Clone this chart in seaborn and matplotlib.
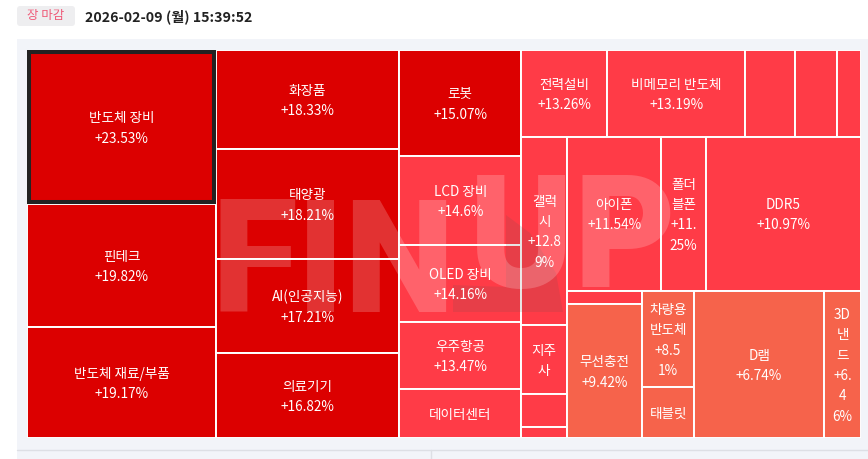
import numpy as np
import pandas as pd
import matplotlib.pyplot as plt
from matplotlib.patches import Rectangle, FancyBboxPatch, Polygon
import seaborn as sns

# flat list of tiles: label, daily change, size weight
labels = ["반도체 장비", "핀테크", "반도체 재료/부품",
          "화장품", "태양광", "AI(인공지능)", "의료기기",
          "로봇", "LCD 장비", "OLED 장비", "우주항공", "데이터센터",
          "전력설비", "비메모리 반도체", "", "", "",
          "갤럭\n시", "지주\n사", "", "",
          "아이폰", "폴더\n블폰", "DDR5",
          "", "무선충전", "차량용\n반도체", "태블릿", "D램", "3D\n낸\n드"]
changes = [23.53, 19.82, 19.17,
           18.33, 18.21, 17.21, 16.82,
           15.07, 14.6, 14.16, 13.47, 13.0,
           13.26, 13.19, 13.1, 13.0, 12.95,
           12.89, 12.5, 12.0, 11.9,
           11.54, 11.25, 10.97,
           10.2, 9.42, 8.51, 8.3, 6.74, 6.46]
change_text = ["+23.53%", "+19.82%", "+19.17%",
               "+18.33%", "+18.21%", "+17.21%", "+16.82%",
               "+15.07%", "+14.6%", "+14.16%", "+13.47%", "",
               "+13.26%", "+13.19%", "", "", "",
               "+12.8\n9%", "", "", "",
               "+11.54%", "+11.\n25%", "+10.97%",
               "", "+9.42%", "+8.5\n1%", "", "+6.74%", "+6.\n4\n6%"]
weights = [29106, 23247, 20979,
           18117, 20130, 17202, 15555,
           12932, 10858, 9394, 8174, 5978,
           7439, 11937, 4325, 3633, 2076,
           8648, 3174, 1518, 506,
           14476, 6930, 23870,
           975, 10050, 4992, 2652, 19110, 5439]

# nesting of the treemap, first entry of a group says how it is split
tree = ["x",
        ["y", 0, 1, 2],
        ["y", 3, 4, 5, 6],
        ["y", 7, 8, 9, 10, 11],
        ["y",
         ["x", 12, 13, 14, 15, 16],
         ["x",
          ["y", 17, 18, 19, 20],
          ["y",
           ["x", 21, 22, 23],
           ["x", ["y", 24, 25], ["y", 26, 27], 28, 29]]]]]

tile_colors = sns.color_palette(["#DC0000", "#FF3B47", "#F6634B"])


def node_weight(node):
    if isinstance(node, int):
        return weights[node]
    return sum(node_weight(n) for n in node[1:])


def layout(node, x0, y0, x1, y1, out):
    if isinstance(node, int):
        out.append((node, x0, y0, x1, y1))
        return
    total = node_weight(node)
    pos = x0 if node[0] == "x" else y0
    for child in node[1:]:
        share = node_weight(child) / total
        if node[0] == "x":
            step = (x1 - x0) * share
            layout(child, pos, y0, pos + step, y1, out)
        else:
            step = (y1 - y0) * share
            layout(child, x0, pos, x1, pos + step, out)
        pos += step


def tile_color(change):
    if change >= 15:
        return tile_colors[0]
    if change >= 10:
        return tile_colors[1]
    return tile_colors[2]


def page_axes(zorder):
    # transparent axes over the whole figure, in pixel coordinates
    a = fig.add_axes([0, 0, 1, 1], zorder=zorder)
    a.set_xlim(0, W)
    a.set_ylim(H, 0)
    a.axis("off")
    return a


sns.set_theme(style="white")
plt.rcParams["font.family"] = ["Noto Sans CJK KR", "DejaVu Sans"]

W, H = 868, 459
fig = plt.figure(figsize=(W / 100, H / 100), dpi=100, facecolor="white")

bg = page_axes(0)
bg.add_patch(Rectangle((17, 39), W - 17, H - 39, color="#F2F4F9", lw=0))
bg.plot([17, W], [449.5, 449.5], color="#DDDFE5", lw=1)
bg.plot([431, 431], [450, H], color="#DDDFE5", lw=1)
bg.add_patch(FancyBboxPatch((17, 6), 58, 20, boxstyle="round,pad=0,rounding_size=3",
                            fc="#EEEEF0", ec="none"))
bg.text(45.5, 15.5, "장 마감", color="#EF5A78", fontsize=9, ha="center", va="center")
bg.text(85, 17, "2026-02-09 (월) 15:39:52", color="#222222", fontsize=10.2,
        fontweight="bold", ha="left", va="center")

# treemap area
L, T, R, B = 27, 50, 861, 438
ax = fig.add_axes([L / W, 1 - B / H, (R - L) / W, (B - T) / H], zorder=1)
ax.set_xlim(0, 1)
ax.set_ylim(1, 0)
ax.axis("off")

cells = []
layout(tree, 0, 0, 1, 1, cells)
df = pd.DataFrame(cells, columns=["tile", "x0", "y0", "x1", "y1"])

for row in df.itertuples():
    ax.bar(row.x0, row.y1 - row.y0, width=row.x1 - row.x0, bottom=row.y0,
           align="edge", color=tile_color(changes[row.tile]),
           edgecolor="white", linewidth=1.4, zorder=1)

# the selected tile gets a dark frame, drawn inside its edge
first = df.iloc[0]
ix, iy = 2 / (R - L), 2 / (B - T)
ax.add_patch(Rectangle((first.x0 + ix, first.y0 + iy),
                       first.x1 - first.x0 - 2 * ix, first.y1 - first.y0 - 2 * iy,
                       fill=False, ec="#222222", lw=2.9, zorder=3))

# watermark over the tiles
over = page_axes(2)
over.add_patch(Polygon([(506, 215), (530, 233), (556, 273), (563, 312), (453, 312), (453, 285), (506, 287)],
                       fc="#555555", alpha=0.14, lw=0))
for mark, mx, my in [("FIN", 211, 312), ("U", 469, 287), ("P", 573, 287)]:
    over.text(mx, my, mark, color="white", alpha=0.2, fontsize=113, fontweight=900,
              family="Roboto", ha="left", va="baseline")

# labels stay on top of the watermark
lab = fig.add_axes(ax.get_position(), zorder=3)
lab.set_xlim(0, 1)
lab.set_ylim(1, 0)
lab.axis("off")
for row in df.itertuples():
    text = labels[row.tile]
    if change_text[row.tile]:
        text = text + "\n" + change_text[row.tile]
    if text:
        lab.text((row.x0 + row.x1) / 2, (row.y0 + row.y1) / 2 + 1.5 / (B - T), text,
                 color="white", fontsize=9.8, ha="center", va="center", linespacing=1.58)

fig.savefig("out.png", dpi=100)
